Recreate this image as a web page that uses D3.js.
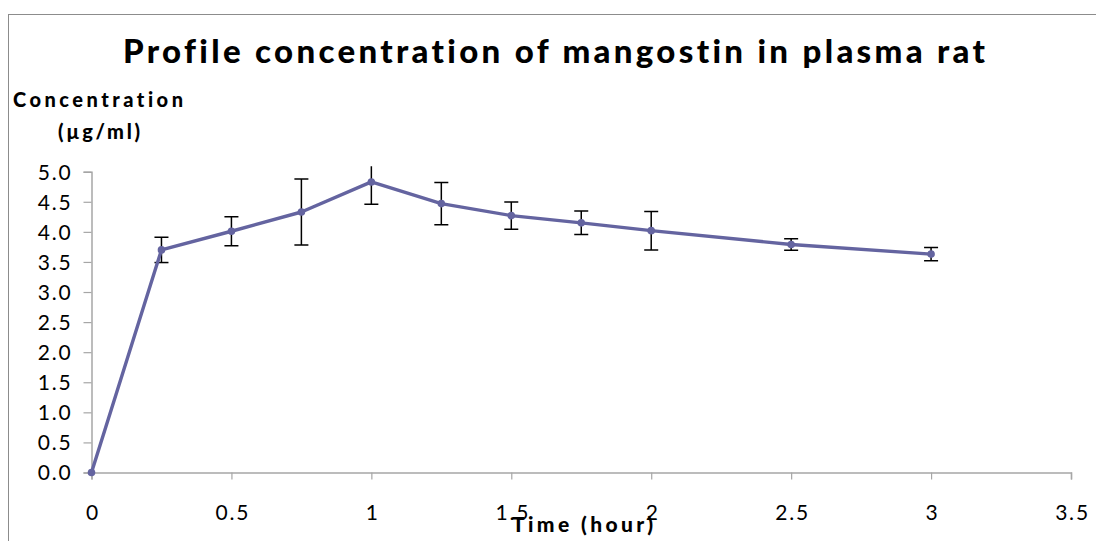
<!DOCTYPE html>
<html>
<head>
<meta charset="utf-8">
<script src="https://cdn.jsdelivr.net/npm/d3@7"></script>
<style>
  html, body { margin: 0; padding: 0; background: #fff; }
  svg { display: block; }
  text { font-family: Lato, "Open Sans", sans-serif; fill: #000; font-variant-ligatures: none; }
</style>
</head>
<body>
<svg id="chart" width="1096" height="541"></svg>
<script>
// ---- data ----
const times = [0, 0.25, 0.5, 0.75, 1, 1.25, 1.5, 1.75, 2, 2.5, 3];
const concentration = [0, 3.70, 4.01, 4.33, 4.83, 4.47, 4.27, 4.15, 4.02, 3.79, 3.63];
const errors = [0, 0.21, 0.24, 0.55, 0.37, 0.35, 0.225, 0.195, 0.32, 0.095, 0.11];
const xTicks = [0, 0.5, 1, 1.5, 2, 2.5, 3, 3.5];
const yTicks = [0, 0.5, 1, 1.5, 2, 2.5, 3, 3.5, 4, 4.5, 5];
const titleText = "Profile concentration of mangostin in plasma rat";
const yTitle1 = "Concentration";
const yTitle2 = "(\u00b5g/ml)";
const xTitle = "Time (hour)";

const svg = d3.select("#chart");

// outer border
svg.append("rect")
  .attr("x", 8.5).attr("y", 14.5)
  .attr("width", 1100).attr("height", 540)
  .attr("fill", "none").attr("stroke", "#8c8c8c").attr("stroke-width", 1);

const x = d3.scaleLinear().domain([0, 3.5]).range([91.5, 1071]);
const y = d3.scaleLinear().domain([0, 5]).range([472.5, 171.7]);

// clip for plot area (slightly above 5.0)
svg.append("defs").append("clipPath").attr("id", "plotclip")
  .append("rect").attr("x", 0).attr("y", y(5.09)).attr("width", 1096).attr("height", 541);

// y axis
const yAxis = svg.append("g").attr("transform", `translate(${x(0)},0)`)
  .call(d3.axisLeft(y).tickValues(yTicks).tickFormat(d3.format(".1f")).tickSize(8).tickPadding(11));
// x axis
const xAxis = svg.append("g").attr("transform", `translate(0,${y(0)})`)
  .call(d3.axisBottom(x).tickValues(xTicks).tickFormat(d => String(d)).tickSize(7).tickPadding(26));

[yAxis, xAxis].forEach(g => {
  g.select(".domain").attr("stroke", "#a6a6a6").attr("stroke-width", 1.5);
  g.selectAll(".tick line").attr("stroke", "#a6a6a6").attr("stroke-width", 1.2);
  g.selectAll(".tick text").style("font-size", "21px").style("letter-spacing", "1.8px").attr("fill", "#000");
});
yAxis.selectAll(".tick text").attr("dy", "0.35em");
xAxis.selectAll(".tick text").attr("dx", "1px");

// error bars
const eb = svg.append("g").attr("clip-path", "url(#plotclip)")
  .attr("stroke", "#000").attr("stroke-width", 1.5).attr("fill", "none");
const capW = 7;
times.forEach((t, i) => {
  if (errors[i] <= 0) return;
  const cx = x(t), yt = y(concentration[i] + errors[i]), yb = y(concentration[i] - errors[i]);
  eb.append("line").attr("x1", cx).attr("x2", cx).attr("y1", yt).attr("y2", yb);
  eb.append("line").attr("x1", cx - capW).attr("x2", cx + capW).attr("y1", yt).attr("y2", yt);
  eb.append("line").attr("x1", cx - capW).attr("x2", cx + capW).attr("y1", yb).attr("y2", yb);
});

// line
const color = "#6464a0";
const line = d3.line().x((d, i) => x(times[i])).y(d => y(d));
svg.append("path").datum(concentration)
  .attr("d", line).attr("fill", "none").attr("stroke", color)
  .attr("stroke-width", 3.4).attr("stroke-linejoin", "round");

svg.append("g").selectAll("circle").data(concentration).join("circle")
  .attr("cx", (d, i) => x(times[i])).attr("cy", d => y(d)).attr("r", 3.8)
  .attr("fill", color);

// titles
svg.append("text").attr("x", 123).attr("y", 63)
  .attr("textLength", 862).attr("lengthAdjust", "spacing")
  .style("font-size", "33px").style("font-weight", "900").text(titleText);

svg.append("text").attr("x", 13).attr("y", 107)
  .attr("textLength", 170).attr("lengthAdjust", "spacing")
  .style("font-size", "20px").style("font-weight", "900").text(yTitle1);

svg.append("text").attr("x", 58).attr("y", 139)
  .attr("textLength", 82).attr("lengthAdjust", "spacing")
  .style("font-size", "20px").style("font-weight", "900").text(yTitle2);

svg.append("text").attr("x", 512).attr("y", 532)
  .attr("textLength", 141).attr("lengthAdjust", "spacing")
  .style("font-size", "21px").style("font-weight", "900").text(xTitle);
</script>
</body>
</html>
